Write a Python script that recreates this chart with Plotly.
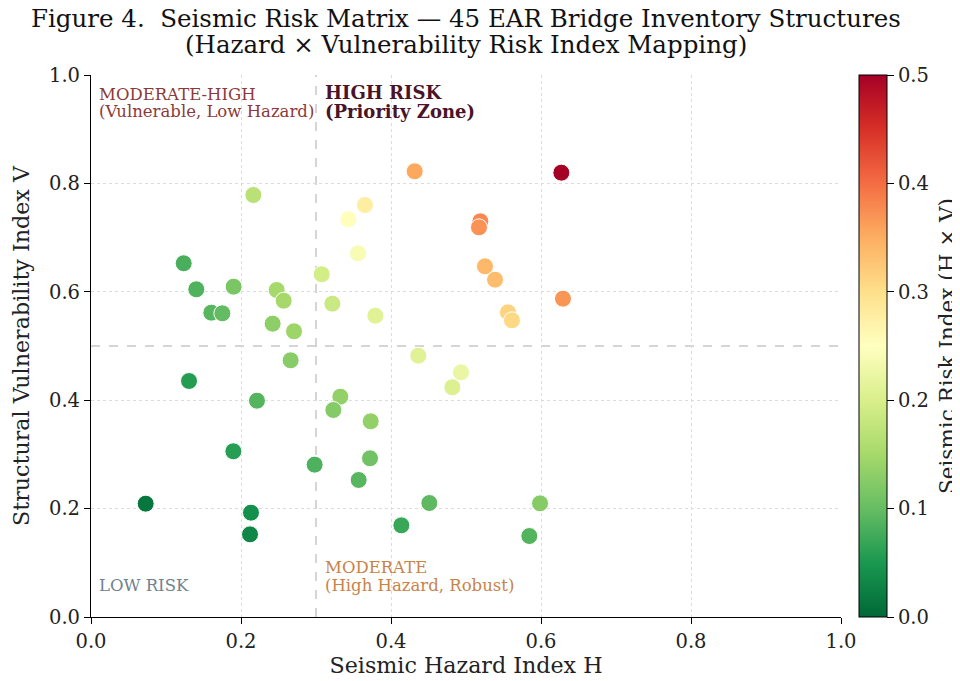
import plotly.graph_objects as go

hazard = [0.2164, 0.1236, 0.1404, 0.1902, 0.1604, 0.1751, 0.2476, 0.2569, 0.2422, 0.2707,
          0.2662, 0.3076, 0.3218, 0.3560, 0.3430, 0.3653, 0.3791, 0.4316, 0.4364,
          0.6271, 0.5191, 0.5173, 0.5253, 0.5387, 0.6293, 0.5560, 0.5613, 0.4933,
          0.4818, 0.1307, 0.2213, 0.3324, 0.3231, 0.3729, 0.1898, 0.2982, 0.3720,
          0.3569, 0.0729, 0.2133, 0.2120, 0.4138, 0.4511, 0.5987, 0.5844]
vulnerability = [0.7786, 0.6526, 0.6046, 0.6095, 0.5615, 0.5603, 0.6033, 0.5836, 0.5412, 0.5271,
                 0.4736, 0.6323, 0.5781, 0.6710, 0.7338, 0.7601, 0.5559, 0.8223, 0.4822,
                 0.8198, 0.7300, 0.7189, 0.6470, 0.6224, 0.5873, 0.5621, 0.5474, 0.4514,
                 0.4238, 0.4354, 0.3991, 0.4065, 0.3819, 0.3610, 0.3057, 0.2811, 0.2928,
                 0.2528, 0.2091, 0.1925, 0.1525, 0.1691, 0.2103, 0.2097, 0.1494]
risk = [h * v for h, v in zip(hazard, vulnerability)]

axis_ticks = [0.0, 0.2, 0.4, 0.6, 0.8, 1.0]
cbar_ticks = [0.0, 0.1, 0.2, 0.3, 0.4, 0.5]

title_lines = ["Figure 4.  Seismic Risk Matrix — 45 EAR Bridge Inventory Structures",
               "(Hazard × Vulnerability Risk Index Mapping)"]
cbar_title = "Seismic Risk Index (H × V)"

FONT = "DejaVu Serif"
TICK_SIZE = 19.5
LABEL_SIZE = 22.2

fig = go.Figure()
fig.add_trace(go.Scatter(
    x=hazard, y=vulnerability, mode="markers",
    marker=dict(
        size=17, color=risk, colorscale="RdYlGn_r", cmin=0, cmax=0.5,
        line=dict(color="white", width=1),
        colorbar=dict(
            x=1.024, xanchor="left", xpad=0, y=0.5, yanchor="middle", ypad=0,
            len=1, lenmode="fraction",
            thickness=28, outlinewidth=1, outlinecolor="black",
            ticks="outside", ticklen=7, tickcolor="black",
            tickvals=cbar_ticks, ticktext=[f"{t:.1f}" for t in cbar_ticks],
            tickfont=dict(family=FONT, size=TICK_SIZE, color="#222"),
        ),
    ),
    showlegend=False, hoverinfo="x+y",
))

fig.add_shape(type="line", x0=0.3, x1=0.3, y0=0, y1=1, xref="x", yref="y",
              line=dict(color="#c8c8c8", width=1.5, dash="dash"), layer="below")
fig.add_shape(type="line", x0=0, x1=1, y0=0.5, y1=0.5, xref="x", yref="y",
              line=dict(color="#c8c8c8", width=1.5, dash="dash"), layer="below")

# Title lines (paper coordinates above the plot)
fig.add_annotation(x=0.5, xref="paper", y=1.104, yref="paper", xanchor="center", yanchor="middle",
                   text=title_lines[0], showarrow=False,
                   font=dict(family=FONT, size=24.5, color="#111"))
fig.add_annotation(x=0.5, xref="paper", y=1.056, yref="paper", xanchor="center", yanchor="middle",
                   text=title_lines[1], showarrow=False,
                   font=dict(family=FONT, size=24.5, color="#111"))

# Colorbar title
fig.add_annotation(x=1.1413, xref="paper", y=0.5, yref="paper", xanchor="center", yanchor="middle",
                   text=cbar_title, textangle=-90, showarrow=False,
                   font=dict(family=FONT, size=21.5, color="#222"))

def zone_label(x, y, text, size, color):
    fig.add_annotation(x=x, y=y, xref="x", yref="y", xanchor="left", yanchor="middle",
                       text=text, showarrow=False, align="left",
                       font=dict(family=FONT, size=size, color=color))

zone_label(0.008, 0.9646, "MODERATE-HIGH", 16.5, "#8b3a3a")
zone_label(0.008, 0.9332, "(Vulnerable, Low Hazard)", 16.5, "#8b3a3a")
zone_label(0.3093, 0.9673, "<b>HIGH RISK</b>", 18, "#4a1328")
zone_label(0.3093, 0.9323, "<b>(Priority Zone)</b>", 18, "#4a1328")
zone_label(0.3093, 0.0919, "MODERATE", 16.5, "#c8834a")
zone_label(0.3093, 0.0587, "(High Hazard, Robust)", 16.5, "#c8834a")
zone_label(0.008, 0.0587, "LOW RISK", 16.5, "#6f8290")

axis_common = dict(
    range=[0, 1], tickvals=axis_ticks, ticktext=[f"{t:.1f}" for t in axis_ticks],
    showline=True, linecolor="black", linewidth=1.2, mirror=False,
    ticks="outside", ticklen=6, tickcolor="black",
    showgrid=True, gridcolor="#dcdcdc", griddash="dot", gridwidth=1,
    zeroline=False, tickfont=dict(family=FONT, size=TICK_SIZE, color="#222"),
)

fig.update_layout(
    width=952, height=673,
    margin=dict(l=83, r=119, t=67, b=64, autoexpand=False),
    paper_bgcolor="white", plot_bgcolor="white",
    xaxis=dict(**axis_common, title=dict(text="Seismic Hazard Index H", standoff=4,
                                         font=dict(family=FONT, size=LABEL_SIZE, color="#222"))),
    yaxis=dict(**axis_common, title=dict(text="Structural Vulnerability Index V", standoff=13,
                                         font=dict(family=FONT, size=LABEL_SIZE, color="#222"))),
    font=dict(family=FONT),
)

fig.write_html("out.html")
